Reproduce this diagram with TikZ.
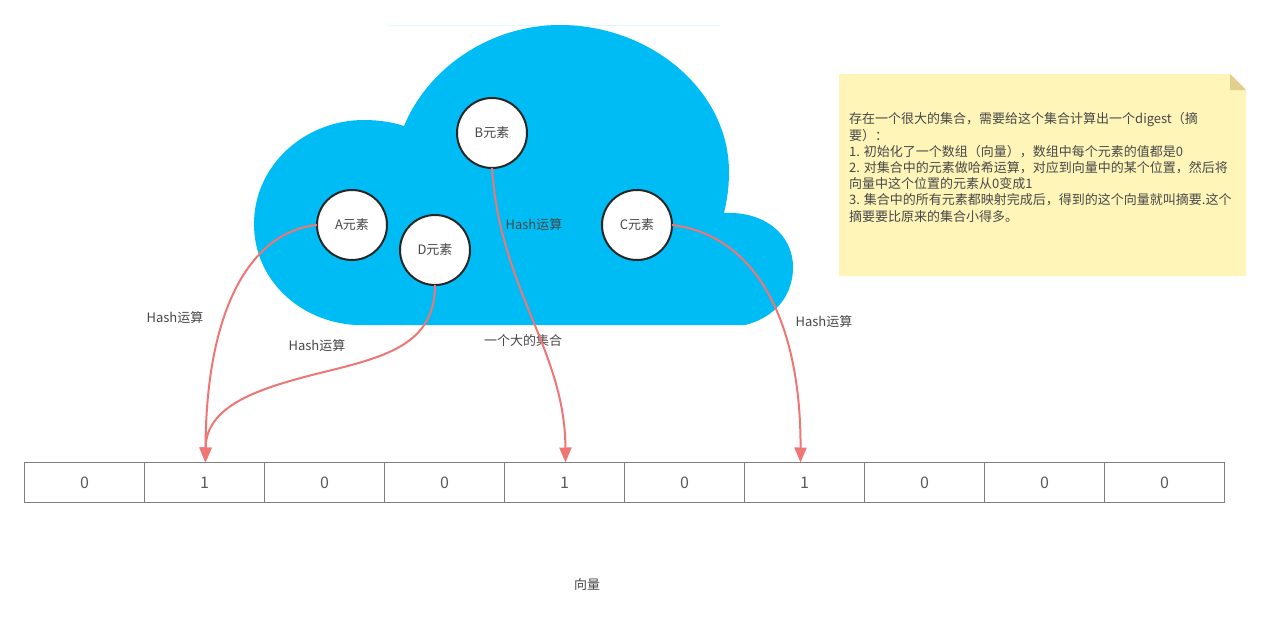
\documentclass[tikz,border=0pt]{standalone}
\usepackage{fontspec}
\setmainfont{Noto Sans CJK SC}
\usepackage{xcolor}
\usetikzlibrary{arrows.meta,positioning}
\definecolor{cloudblue}{HTML}{00BCF5}
\definecolor{hashred}{HTML}{F07575}
\definecolor{notefill}{HTML}{FFF5B8}
\definecolor{notefold}{HTML}{E2CF8C}
\definecolor{textgray}{HTML}{484848}

\begin{document}
\begin{tikzpicture}[x=1pt,y=-1pt,text=textgray,
      every node/.style={font=\fontsize{13}{16.2}\selectfont},
      element node/.style={circle,draw=black!85,line width=2pt,fill=white,minimum size=70pt,inner sep=0pt,outer sep=0pt},
      cell node/.style={rectangle,draw=black!50,line width=1pt,minimum width=120pt,minimum height=40pt,inner sep=0pt,outer sep=0pt,font=\fontsize{16}{18}\selectfont,text=black!65},
      hash arrow/.style={draw=hashred,line width=2pt,-{Triangle[width=12pt,length=15pt,fill=hashred]}}]
      \useasboundingbox (0,0) rectangle (1270,629);

      % cloud
      \draw[cloudblue!12,line width=1pt] (390,25) -- (720,25);
      \fill[cloudblue] (404,126) .. controls (428,68) and (490,25) .. (560,25)
        .. controls (650,25) and (729,90) .. (729,172)
        .. controls (729,188) and (727,200) .. (724,213)
        .. controls (765,211) and (793,235) .. (793,267)
        .. controls (793,300) and (770,319) .. (745,325)
        -- (356,325)
        .. controls (300,322) and (254,280) .. (254,224)
        .. controls (254,165) and (305,120) .. (364,120)
        .. controls (378,120) and (392,122) .. (404,126) -- cycle;
      \node (cloud label) at (523,341) {一个大的集合};

      % set elements
      \node[element node] (a) at (352,225) {A元素};
      \node[element node] (b) at (492,133) {B元素};
      \node[element node] (c) at (637,225) {C元素};
      \node[element node] (d) at (435,250) {D元素};

      % vector
      \node[cell node] (v0) at (84.5,482.5) {0};
      \node[cell node] (v1) [right=0pt of v0] {1};
      \node[cell node] (v2) [right=0pt of v1] {0};
      \node[cell node] (v3) [right=0pt of v2] {0};
      \node[cell node] (v4) [right=0pt of v3] {1};
      \node[cell node] (v5) [right=0pt of v4] {0};
      \node[cell node] (v6) [right=0pt of v5] {1};
      \node[cell node] (v7) [right=0pt of v6] {0};
      \node[cell node] (v8) [right=0pt of v7] {0};
      \node[cell node] (v9) [right=0pt of v8] {0};
      \node (vector label) at (587,585) {向量};

      \draw[hash arrow] (a.west) .. controls (250,232) and (206,310) .. ([xshift=1pt]v1.north);
      \draw[hash arrow] (b.south) .. controls (500,290) and (565,350) .. ([xshift=1pt]v4.north);
      \draw[hash arrow] (c.east) .. controls (755,235) and (801,320) .. ([xshift=-4pt]v6.north);
      \draw[hash arrow] (d.south) .. controls (435,345) and (385,357) .. (320,373)
        .. controls (260,388) and (206,405) .. ([xshift=1pt]v1.north);

      \node (hash a) at (175,318) {Hash运算};
      \node (hash b) at (534,225) {Hash运算};
      \node (hash c) at (824,322) {Hash运算};
      \node (hash d) at (317,346) {Hash运算};

      % note
      \fill[notefill] (839,74) -- (1230,74) -- (1246,90) -- (1246,276) -- (839,276) -- cycle;
      \fill[notefold] (1230,74) -- (1246,90) -- (1230,90) -- cycle;
      \node[anchor=west,align=left,inner sep=0pt] (note text) at (849,167.5) {存在一个很大的集合，需要给这个集合计算出一个digest（摘\\
        要）：\\
        1. 初始化了一个数组（向量），数组中每个元素的值都是0\\
        2. 对集合中的元素做哈希运算，对应到向量中的某个位置，然后将\\
        向量中这个位置的元素从0变成1\\
        3. 集合中的所有元素都映射完成后，得到的这个向量就叫摘要.这个\\
        摘要要比原来的集合小得多。};
\end{tikzpicture}
\end{document}
